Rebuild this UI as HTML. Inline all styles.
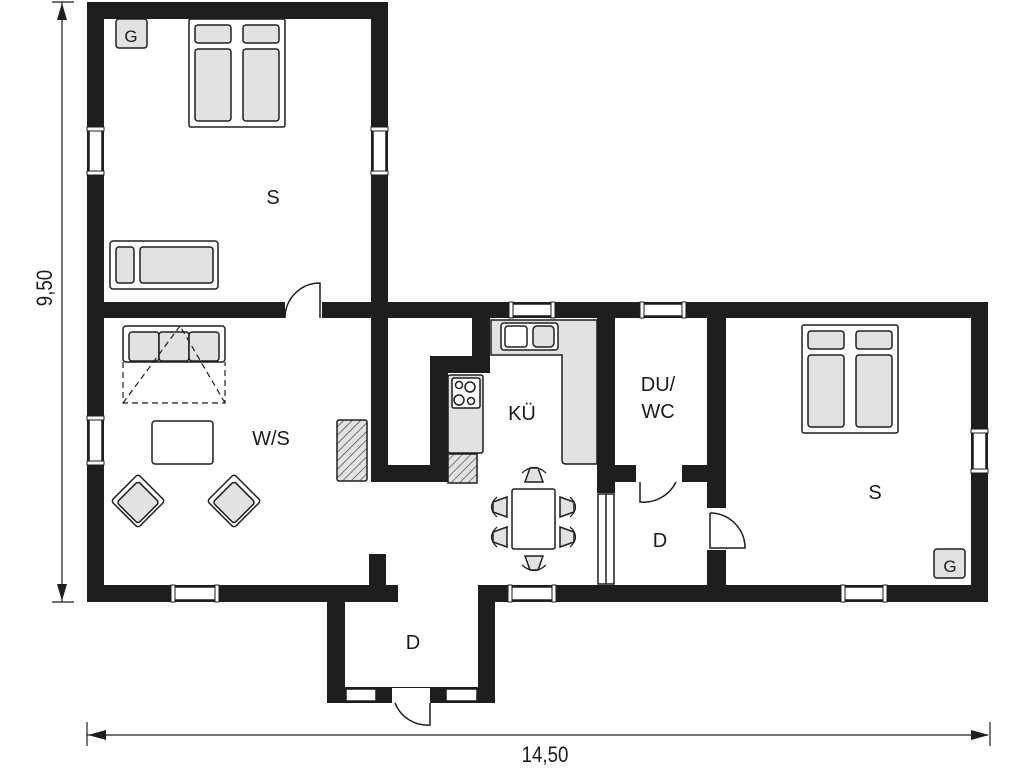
<!DOCTYPE html>
<html><head><meta charset="utf-8"><style>
html,body{margin:0;padding:0;background:#fff;}
svg{display:block;}
text{font-family:"Liberation Sans",sans-serif;fill:#1a1a1a;}
</style></head><body>
<svg width="1024" height="768" viewBox="0 0 1024 768" xmlns="http://www.w3.org/2000/svg">
<defs>
<pattern id="h" width="6" height="6" patternUnits="userSpaceOnUse" patternTransform="rotate(45)">
<rect width="6" height="6" fill="#e2e2e2"/><line x1="0" y1="0" x2="0" y2="6" stroke="#333" stroke-width="1.2"/></pattern>
</defs>
<g fill="#1e1e1e">
<rect x="87" y="2" width="301" height="17"/>
<rect x="87" y="2" width="17" height="600"/>
<rect x="371" y="2" width="17" height="480"/>
<rect x="87" y="302" width="198" height="16"/>
<rect x="322" y="302" width="666" height="16"/>
<rect x="971" y="302" width="17" height="300"/>
<rect x="87" y="585" width="311" height="17"/>
<rect x="478" y="585" width="510" height="17"/>
<rect x="369" y="554" width="17" height="35"/>
<rect x="371" y="465" width="77" height="17"/>
<rect x="430" y="356" width="18" height="126"/>
<rect x="430" y="356" width="60" height="17"/>
<rect x="472" y="318" width="18" height="55"/>
<rect x="597" y="318" width="18" height="175"/>
<rect x="707" y="318" width="19" height="190"/>
<rect x="707" y="550" width="19" height="52"/>
<rect x="615" y="465" width="21" height="17"/>
<rect x="682" y="465" width="25" height="17"/>
<rect x="327" y="585" width="18" height="118"/>
<rect x="478" y="585" width="17" height="118"/>
<rect x="327" y="687" width="168" height="16"/>
</g>
<!-- windows -->
<g fill="#fff" stroke="#1e1e1e" stroke-width="1.5">
<rect x="89" y="130" width="13" height="42"/>
<rect x="373" y="130" width="13" height="42"/>
<rect x="89" y="419" width="13" height="43"/>
<rect x="973" y="432" width="13" height="38"/>
<rect x="512" y="304" width="40" height="12"/>
<rect x="643" y="304" width="40" height="12"/>
<rect x="174" y="587" width="42" height="13"/>
<rect x="511" y="587" width="42" height="13"/>
<rect x="844" y="587" width="40" height="13"/>
<rect x="346" y="689" width="30" height="12"/>
<rect x="446" y="689" width="31" height="12"/>
<rect x="392" y="688" width="38" height="15" stroke="none"/>
<rect x="598" y="494" width="16" height="90"/>
<line x1="606" y1="494" x2="606" y2="584"/>
</g>
<!-- window caps -->
<g fill="#fff" stroke="#1e1e1e" stroke-width="1">
<rect x="87" y="127" width="17" height="4"/><rect x="87" y="171" width="17" height="4"/>
<rect x="371" y="127" width="17" height="4"/><rect x="371" y="171" width="17" height="4"/>
<rect x="87" y="416" width="17" height="4"/><rect x="87" y="461" width="17" height="4"/>
<rect x="971" y="429" width="17" height="4"/><rect x="971" y="469" width="17" height="4"/>
<rect x="509" y="302" width="4" height="16"/><rect x="551" y="302" width="4" height="16"/>
<rect x="640" y="302" width="4" height="16"/><rect x="682" y="302" width="4" height="16"/>
<rect x="171" y="585" width="4" height="17"/><rect x="215" y="585" width="4" height="17"/>
<rect x="508" y="585" width="4" height="17"/><rect x="552" y="585" width="4" height="17"/>
<rect x="841" y="585" width="4" height="17"/><rect x="883" y="585" width="4" height="17"/>
</g>
<g fill="#1e1e1e"><rect x="379" y="687" width="12" height="16"/><rect x="432" y="687" width="12" height="16"/></g>
<!-- doors -->
<g fill="#fff" stroke="#1e1e1e" stroke-width="1.5">
<rect x="285" y="300" width="37" height="20" stroke="none"/>
<path d="M320 318 V283 A35 35 0 0 0 285 318" fill="none"/>
<rect x="636" y="463" width="46" height="21" stroke="none"/>
<path d="M640 482 V502 A36 36 0 0 0 676 482" fill="none"/>
<rect x="705" y="508" width="23" height="42" stroke="none"/>
<path d="M710 513 V548 H745 A35 35 0 0 0 710 513" fill="none"/>
<path d="M395 703 A35 35 0 0 0 430 725 V703" fill="none"/>
</g>
<!-- furniture -->
<g stroke="#1e1e1e" stroke-width="1.5">
<rect x="189" y="19" width="96" height="108" rx="2" fill="#fff"/>
<rect x="195" y="25" width="36" height="18" rx="3" fill="#e2e2e2"/>
<rect x="243" y="25" width="36" height="18" rx="3" fill="#e2e2e2"/>
<rect x="195" y="49" width="36" height="72" rx="3" fill="#e2e2e2"/>
<rect x="243" y="49" width="36" height="72" rx="3" fill="#e2e2e2"/>
<rect x="116" y="19" width="31" height="29" rx="3" fill="#e2e2e2"/>
<rect x="110" y="241" width="108" height="48" rx="3" fill="#fff"/>
<rect x="116" y="247" width="18" height="36" rx="3" fill="#e2e2e2"/>
<rect x="140" y="247" width="73" height="36" rx="3" fill="#e2e2e2"/>
<rect x="802" y="325" width="96" height="108" rx="2" fill="#fff"/>
<rect x="808" y="331" width="36" height="18" rx="3" fill="#e2e2e2"/>
<rect x="856" y="331" width="36" height="18" rx="3" fill="#e2e2e2"/>
<rect x="808" y="355" width="36" height="72" rx="3" fill="#e2e2e2"/>
<rect x="856" y="355" width="36" height="72" rx="3" fill="#e2e2e2"/>
<rect x="934" y="549" width="31" height="29" rx="3" fill="#e2e2e2"/>
<rect x="123" y="326" width="102" height="36" rx="3" fill="#fff"/>
<rect x="129" y="332" width="30" height="29" rx="3" fill="#e2e2e2"/>
<rect x="159" y="332" width="30" height="29" rx="3" fill="#e2e2e2"/>
<rect x="189" y="332" width="30" height="29" rx="3" fill="#e2e2e2"/>
<path d="M123 362 V403 H225 V362 M123 403 L180 326 M225 403 L180 326" fill="none" stroke-dasharray="6 4" stroke-width="1.2"/>
<rect x="152" y="421" width="61" height="43" rx="3" fill="#fff"/>
<g transform="translate(138 501) rotate(45)"><rect x="-19" y="-19" width="38" height="38" rx="3" fill="#fff"/><rect x="-14" y="-14" width="30" height="30" rx="3" fill="#e2e2e2"/></g>
<g transform="translate(234 501) rotate(45)"><rect x="-19" y="-19" width="38" height="38" rx="3" fill="#fff"/><rect x="-14" y="-14" width="30" height="30" rx="3" fill="#e2e2e2"/></g>
<rect x="337" y="420" width="30" height="61" rx="2" fill="url(#h)"/>
<path d="M491 320 H597 V464 H566 Q562 464 562 460 V355 H491 Z" fill="#e2e2e2"/>
<rect x="501" y="323" width="57" height="27" rx="3" fill="#fff"/>
<rect x="505" y="326" width="22" height="21" rx="3" fill="#fff"/>
<rect x="533" y="326" width="21" height="21" rx="4" fill="#e2e2e2"/>
<rect x="448" y="375" width="35" height="78" rx="2" fill="#e2e2e2"/>
<rect x="452" y="378" width="28" height="30" rx="2" fill="#fff"/>
<circle cx="459" cy="385" r="3.5" fill="#fff"/><circle cx="470" cy="387" r="5" fill="#fff"/>
<circle cx="459" cy="400" r="5" fill="#fff"/><circle cx="471" cy="401" r="3.5" fill="#fff"/>
<rect x="448" y="454" width="29" height="29" fill="url(#h)"/>
<rect x="512" y="489" width="43" height="60" rx="2" fill="#fff"/>
<path d="M525 482 L530 468 H538 L543 482 Z" fill="#e2e2e2"/>
<path d="M525 556 L530 570 H538 L543 556 Z" fill="#e2e2e2"/>
<path d="M507 497 L493 502 V512 L507 517 Z" fill="#e2e2e2"/>
<path d="M507 527 L493 532 V542 L507 547 Z" fill="#e2e2e2"/>
<path d="M560 497 L574 502 V512 L560 517 Z" fill="#e2e2e2"/>
<path d="M560 527 L574 532 V542 L560 547 Z" fill="#e2e2e2"/>
<path d="M522 473 Q534 462 546 473 M522 565 Q534 576 546 565 M497 497 Q486 507 497 517 M497 527 Q486 537 497 547 M570 497 Q581 507 570 517 M570 527 Q581 537 570 547" fill="none" stroke-width="1.2"/>
</g>
<g font-size="20" text-anchor="middle">
<text x="273" y="204">S</text>
<text x="271" y="445">W/S</text>
<text x="522" y="420">KÜ</text>
<text x="658" y="391">DU/</text>
<text x="658" y="418">WC</text>
<text x="660" y="547">D</text>
<text x="413" y="649">D</text>
<text x="875" y="499">S</text>
<text x="131" y="42" font-size="17">G</text>
<text x="950" y="572" font-size="17">G</text>
</g>
<g stroke="#1e1e1e" stroke-width="1.2">
<line x1="87" y1="735" x2="988" y2="735"/>
<line x1="87" y1="722" x2="87" y2="746"/>
<line x1="990" y1="722" x2="990" y2="746"/>
<line x1="62" y1="2" x2="62" y2="602"/>
<line x1="52" y1="2" x2="74" y2="2"/>
<line x1="52" y1="602" x2="74" y2="602"/>
</g>
<g fill="#1e1e1e">
<path d="M88 735 L106 730 V740 Z"/><path d="M989 735 L971 730 V740 Z"/>
<path d="M62 3 L57 20 H67 Z"/><path d="M62 601 L57 584 H67 Z"/>
</g>
<text x="545" y="762" font-size="22" text-anchor="middle" transform="translate(545 0) scale(0.85 1) translate(-545 0)">14,50</text>
<text font-size="22" text-anchor="middle" transform="translate(52 288) rotate(-90) scale(0.85 1)">9,50</text>
</svg>
</body></html>
